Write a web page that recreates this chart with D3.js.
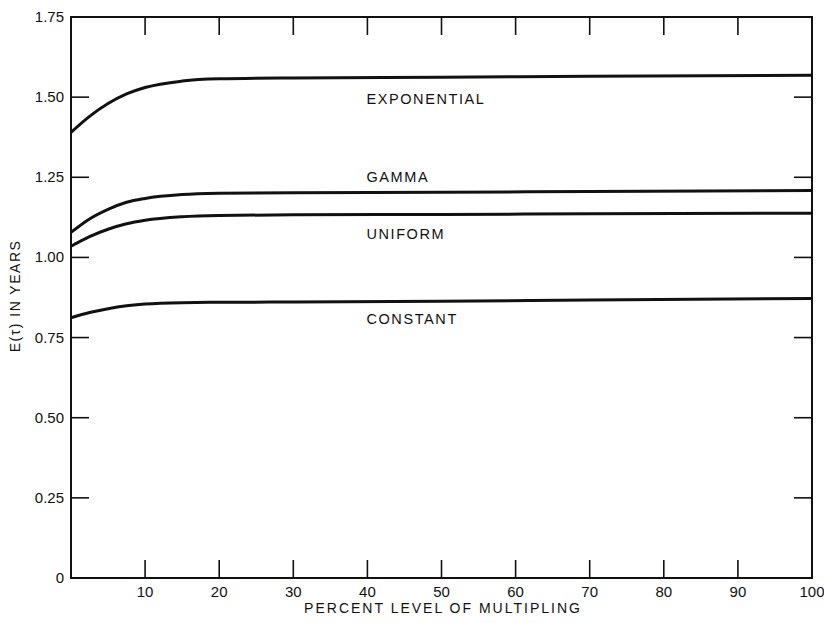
<!DOCTYPE html>
<html>
<head>
<meta charset="utf-8">
<script src="https://cdn.jsdelivr.net/npm/d3@7"></script>
<style>
  body { margin: 0; background: #fff; }
  text { font-family: "Liberation Sans", Arial, sans-serif; fill: #111; }
</style>
</head>
<body>
<svg width="824" height="623"></svg>
<script>
// data
var pct = [0, 2.5, 5, 7.5, 10, 15, 20, 30, 50, 70, 100];
var exponential = [1.39, 1.44, 1.48, 1.51, 1.53, 1.55, 1.557, 1.56, 1.562, 1.565, 1.568];
var gamma = [1.078, 1.12, 1.15, 1.172, 1.184, 1.196, 1.2, 1.202, 1.203, 1.206, 1.209];
var uniform = [1.035, 1.065, 1.088, 1.105, 1.116, 1.127, 1.131, 1.133, 1.134, 1.136, 1.138];
var constant = [0.812, 0.828, 0.84, 0.849, 0.855, 0.859, 0.86, 0.861, 0.863, 0.867, 0.872];

var xTicks = [10, 20, 30, 40, 50, 60, 70, 80, 90, 100];
var yTicks = [0, 0.25, 0.5, 0.75, 1.0, 1.25, 1.5, 1.75];
var yTickLabels = ["0", "0.25", "0.50", "0.75", "1.00", "1.25", "1.50", "1.75"];

var series = [
  {name: "EXPONENTIAL", values: exponential, labelX: 40, labelY: 1.478},
  {name: "GAMMA", values: gamma, labelX: 40, labelY: 1.235},
  {name: "UNIFORM", values: uniform, labelX: 40, labelY: 1.058},
  {name: "CONSTANT", values: constant, labelX: 40, labelY: 0.793}
];

var svg = d3.select("svg");
var padL = 71, padR = 812, padT = 17, padB = 578;

var x = d3.scaleLinear().domain([0, 100]).range([padL, padR]);
var y = d3.scaleLinear().domain([0, 1.75]).range([padB, padT]);

// frame
svg.append("rect")
  .attr("x", padL).attr("y", padT)
  .attr("width", padR - padL).attr("height", padB - padT)
  .attr("fill", "none").attr("stroke", "#111").attr("stroke-width", 2);

// inner ticks on all four sides
var tickLen = 18;
var g = svg.append("g").attr("stroke", "#111").attr("stroke-width", 1.6);
xTicks.slice(0, -1).forEach(function(t) {
  g.append("line").attr("x1", x(t)).attr("x2", x(t)).attr("y1", padB).attr("y2", padB - tickLen);
  g.append("line").attr("x1", x(t)).attr("x2", x(t)).attr("y1", padT).attr("y2", padT + tickLen);
});
yTicks.slice(1, -1).forEach(function(t) {
  g.append("line").attr("x1", padL).attr("x2", padL + tickLen).attr("y1", y(t)).attr("y2", y(t));
  g.append("line").attr("x1", padR).attr("x2", padR - tickLen).attr("y1", y(t)).attr("y2", y(t));
});

// tick labels
svg.selectAll(".xl").data(xTicks).enter().append("text")
  .attr("class", "xl")
  .attr("x", function(d) { return x(d); })
  .attr("y", padB + 19)
  .attr("text-anchor", "middle")
  .attr("font-size", 15)
  .text(function(d) { return d; });

svg.selectAll(".yl").data(yTicks).enter().append("text")
  .attr("class", "yl")
  .attr("x", padL - 7)
  .attr("y", function(d) { return y(d) + 5; })
  .attr("text-anchor", "end")
  .attr("font-size", 15)
  .text(function(d, i) { return yTickLabels[i]; });

// axis titles
svg.append("text")
  .attr("x", 443).attr("y", 613)
  .attr("text-anchor", "middle")
  .attr("font-size", 14)
  .attr("letter-spacing", 2.0)
  .text("PERCENT LEVEL OF MULTIPLING");

svg.append("text")
  .attr("transform", "translate(20,296) rotate(-90)")
  .attr("text-anchor", "middle")
  .attr("font-size", 14)
  .attr("letter-spacing", 1.5)
  .text("E(τ) IN YEARS");

// curves
var line = d3.line()
  .x(function(d, i) { return x(pct[i]); })
  .y(function(d) { return y(d); })
  .curve(d3.curveMonotoneX);

svg.selectAll(".curve").data(series).enter().append("path")
  .attr("class", "curve")
  .attr("d", function(d) { return line(d.values); })
  .attr("fill", "none")
  .attr("stroke", "#111")
  .attr("stroke-width", 3);

svg.selectAll(".lab").data(series).enter().append("text")
  .attr("class", "lab")
  .attr("x", function(d) { return x(d.labelX) - 1; })
  .attr("y", function(d) { return y(d.labelY); })
  .attr("font-size", 14.5)
  .attr("letter-spacing", 1.6)
  .text(function(d) { return d.name; });
</script>
</body>
</html>
